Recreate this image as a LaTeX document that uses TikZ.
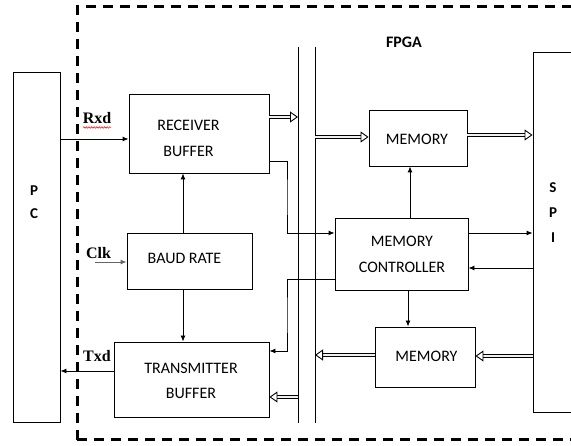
\documentclass[tikz,border=0pt]{standalone}
\usepackage{fontspec}
\setmainfont{Carlito}
\newfontfamily\serfont{Liberation Serif}
\usetikzlibrary{arrows.meta,decorations.pathmorphing}
\tikzset{
  blk/.style={draw, line width=0.9pt, inner sep=0pt},
  lbl/.style={inner sep=0pt, align=center, font=\fontsize{16}{26}\selectfont},
  bl/.style={inner sep=0pt, font=\fontsize{15}{24}\selectfont\bfseries, align=center},
  sig/.style={inner sep=0pt, anchor=base, font=\fontsize{16}{18}\selectfont\serfont\bfseries},
  arr/.style={line width=0.9pt, -{Latex[length=6pt,width=5pt]}},
  hol/.style={double=gray!12, double distance=2.8pt, line width=0.8pt, -{Triangle[open,length=8pt,width=11pt,line width=0.9pt]}},
  fpgaline/.style={line width=3pt, dash pattern=on 10pt off 7pt},
}
\begin{document}
\begin{tikzpicture}[x=1pt,y=-1pt]
\useasboundingbox (0,0) rectangle (571,446);
% FPGA dashed border
\draw[fpgaline] (77,440) -- (77,7) -- (600,7);
\draw[fpgaline] (77,440) -- (600,440);
% blocks
\node[blk, minimum width=47pt, minimum height=350pt] (pc) at (36.5,247) {};
\node[blk, minimum width=50pt, minimum height=360pt] (spi) at (558,232) {};
\node[blk, minimum width=140pt, minimum height=79pt] (rx) at (199,133.5) {};
\node[blk, minimum width=125pt, minimum height=56pt] (baud) at (189.5,261) {};
\node[blk, minimum width=155pt, minimum height=75pt] (tx) at (191.5,379.5) {};
\node[blk, minimum width=98pt, minimum height=56pt] (mem1) at (418,138) {};
\node[blk, minimum width=133pt, minimum height=72pt] (mc) at (401.5,254) {};
\node[blk, minimum width=100pt, minimum height=60pt] (mem2) at (425,357) {};
% bus lines
\coordinate (b1t) at (298,47); \coordinate (b1b) at (298,423);
\coordinate (b2t) at (315,47); \coordinate (b2b) at (315,423);
\draw[line width=0.9pt] (b1t) -- (b1b);
\draw[line width=0.9pt] (b2t) -- (b2b);
% texts
\node[lbl] (trx) at (188.5,138) {RECEIVER\\BUFFER};
\node[lbl] (tbaud) at (184.5,258) {BAUD RATE};
\node[lbl, font=\fontsize{16}{25}\selectfont] (ttx) at (191,381) {TRANSMITTER\\BUFFER};
\node[lbl] (tm1) at (417,139) {MEMORY};
\node[lbl] (tmc) at (402,254) {MEMORY\\CONTROLLER};
\node[lbl] (tm2) at (426.5,356.5) {MEMORY};
\node[bl, font=\fontsize{16}{24}\selectfont\bfseries] (tfpga) at (404,42.5) {FPGA};
\node[bl, font=\fontsize{15}{23}\selectfont\bfseries] (tpc) at (34,202.5) {P\\C};
\node[bl, font=\fontsize{15}{25}\selectfont\bfseries] (tspi) at (553,212.5) {S\\P\\I};
\node[sig] (trxd) at (97,124) {Rxd};
\node[sig] (tclk) at (98.5,259) {Clk};
\node[sig] (ttxd) at (97,362) {Txd};
\draw[red, line width=0.5pt, decorate, decoration={snake, amplitude=0.8pt, segment length=2.6pt}] (83,127.5) -- (111,127.5);
% signal connectors
\coordinate (clk) at (95,262);
\draw[arr] (pc.east |- 0,139) -- (rx.west |- 0,139);
\draw[arr, gray!80!black] (clk) -- (baud.west |- clk);
\draw[arr] (tx.west |- 0,371) -- (pc.east |- 0,371);
\draw[arr] (baud.north -| 183,0) -- (rx.south -| 183,0);
\draw[arr] (baud.south -| 183,0) -- (tx.north -| 183,0);
\draw[arr] (rx.east |- 0,161) -| (287,197) |- (mc.west |- 0,233);
\draw[arr] (mc.west |- 0,279) -| (287,315) |- (tx.east |- 0,351);
\draw[arr] (mc.north -| 410,0) -- (mem1.south -| 410,0);
\draw[arr] (mc.east |- 0,233) -- (spi.west |- 0,233);
\draw[arr] (spi.west |- 0,268) -- (mc.east |- 0,268);
\draw[arr] (mc.south -| 408,0) -- (mem2.north -| 408,0);
% bus (hollow) arrows
\draw[hol] (rx.east |- 0,117) -- (b1t |- 0,117);
\draw[hol] (b2t |- 0,137) -- (mem1.west |- 0,137);
\draw[hol] (mem1.east |- 0,135) -- (spi.west |- 0,135);
\draw[hol] (spi.west |- 0,356) -- (mem2.east |- 0,356);
\draw[hol] (mem2.west |- 0,355) -- (b2t |- 0,355);
\draw[hol] (b1t |- 0,397) -- (tx.east |- 0,397);
\end{tikzpicture}
\end{document}
